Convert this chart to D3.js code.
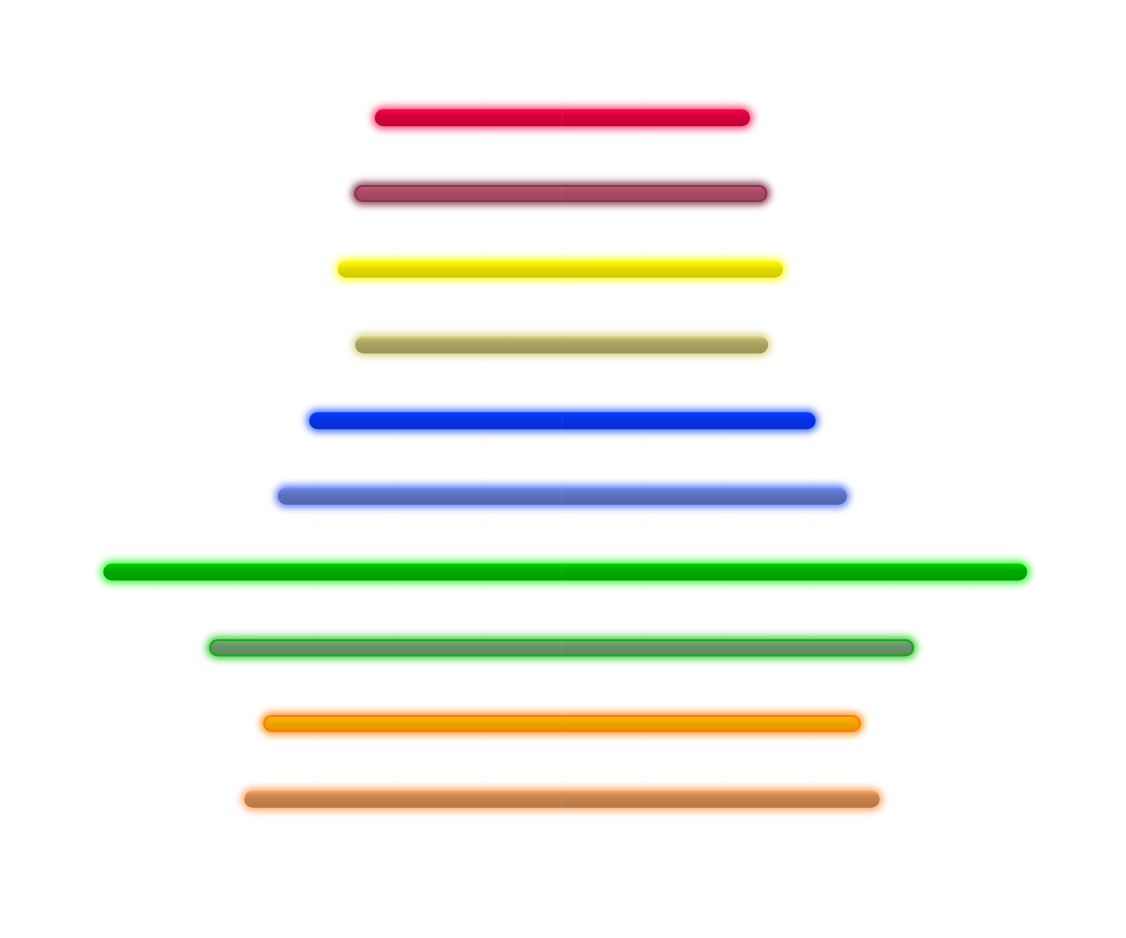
<!DOCTYPE html>
<html>
<head>
<meta charset="utf-8">
<script src="https://cdn.jsdelivr.net/npm/d3@7"></script>
<style>
  html, body { margin: 0; padding: 0; background: #fff; }
</style>
</head>
<body>
<div id="chart"></div>
<script>
// data: each bar runs from -left to +right around zero
var categories = ["A", "B", "C", "D", "E", "F", "G", "H", "I", "J"];
var leftValues  = [21.8, 24.3, 26.3, 24.2, 29.8, 33.6, 54.9, 42.0, 35.4, 37.7];
var rightValues = [21.9, 24.0, 25.9, 24.1, 29.9, 33.7, 55.7, 41.9, 35.4, 37.7];
var gridTicks = [-50, -40, -30, -20, -10, 0, 10, 20, 30, 40, 50];

// palette: body colour, glow colour, outline (null = none)
var fills    = ["#d2003a", "#a84a62", "#e4da00", "#a8a262", "#0532e4", "#5a6fbe", "#00aa00", "#67936a", "#f2a200", "#c6824c"];
var glows    = ["#ff2d62", "#7a2c44", "#ffff10", "#d6d078", "#2e5cff", "#4a70ff", "#22ff22", "#22cc22", "#ff8a10", "#ff9a50"];
var outlines = [null, "#8c3450", null, null, null, null, null, "#1fa51f", "#ff8000", null];

var width = 1126, height = 938;
var thick = 17, r = thick / 2;

var svg = d3.select("#chart")
  .append("svg")
    .attr("width", width)
    .attr("height", height);

var x = d3.scaleLinear()
  .domain([-60, 60])
  .range([70, 1054]);

var y = d3.scalePoint()
  .domain(categories)
  .range([80, 837])
  .padding(0.5);

function x0(i) { return x(-leftValues[i]); }
function x1(i) { return x(rightValues[i]); }

var defs = svg.append("defs");

defs.append("filter")
    .attr("id", "glow")
    .attr("x", "-20%").attr("y", "-200%")
    .attr("width", "140%").attr("height", "500%")
  .append("feGaussianBlur")
    .attr("stdDeviation", 3.5);

// vertical shading for each bar
fills.forEach(function(c, i) {
  var g = defs.append("linearGradient")
    .attr("id", "shade" + i)
    .attr("x1", 0).attr("y1", 0).attr("x2", 0).attr("y2", 1);
  var base = d3.color(c);
  g.append("stop").attr("offset", "0%").attr("stop-color", base.brighter(0.7));
  g.append("stop").attr("offset", "22%").attr("stop-color", base.brighter(0.25));
  g.append("stop").attr("offset", "45%").attr("stop-color", base);
  g.append("stop").attr("offset", "100%").attr("stop-color", base.darker(0.25));
});

// grid, almost invisible
svg.append("g")
    .attr("transform", "translate(0," + 837 + ")")
    .call(d3.axisBottom(x).tickValues(gridTicks).tickSize(-757).tickFormat(""))
    .call(function(g) { g.select(".domain").remove(); })
    .call(function(g) {
      g.selectAll(".tick line").attr("stroke", "#000").attr("stroke-opacity", 0.006);
    });

var rows = svg.append("g")
  .selectAll("g")
  .data(categories)
  .enter()
  .append("g");

// glow behind
rows.append("rect")
    .attr("x", function(d, i) { return x0(i) - r - 3; })
    .attr("y", function(d) { return y(d) - r - 3; })
    .attr("width", function(d, i) { return x1(i) - x0(i) + thick + 6; })
    .attr("height", thick + 6)
    .attr("rx", r + 3)
    .attr("fill", function(d, i) { return glows[i]; })
    .attr("fill-opacity", 0.85)
    .attr("filter", "url(#glow)");

// bar body
rows.append("rect")
    .attr("x", function(d, i) { return x0(i) - r; })
    .attr("y", function(d) { return y(d) - r; })
    .attr("width", function(d, i) { return x1(i) - x0(i) + thick; })
    .attr("height", thick)
    .attr("rx", r)
    .attr("fill", function(d, i) { return "url(#shade" + i + ")"; });

// outline on the muted bars
rows.filter(function(d, i) { return outlines[i]; })
  .append("rect")
    .attr("x", function(d) { return x0(categories.indexOf(d)) - r + 1; })
    .attr("y", function(d) { return y(d) - r + 1; })
    .attr("width", function(d) { var i = categories.indexOf(d); return x1(i) - x0(i) + thick - 2; })
    .attr("height", thick - 2)
    .attr("rx", r - 1)
    .attr("fill", "none")
    .attr("stroke", function(d) { return outlines[categories.indexOf(d)]; })
    .attr("stroke-width", 2);

// faint zero seam
rows.append("line")
    .attr("x1", x(0)).attr("x2", x(0))
    .attr("y1", function(d) { return y(d) - r; })
    .attr("y2", function(d) { return y(d) + r; })
    .attr("stroke", "#fff")
    .attr("stroke-opacity", 0.08);
</script>
</body>
</html>
